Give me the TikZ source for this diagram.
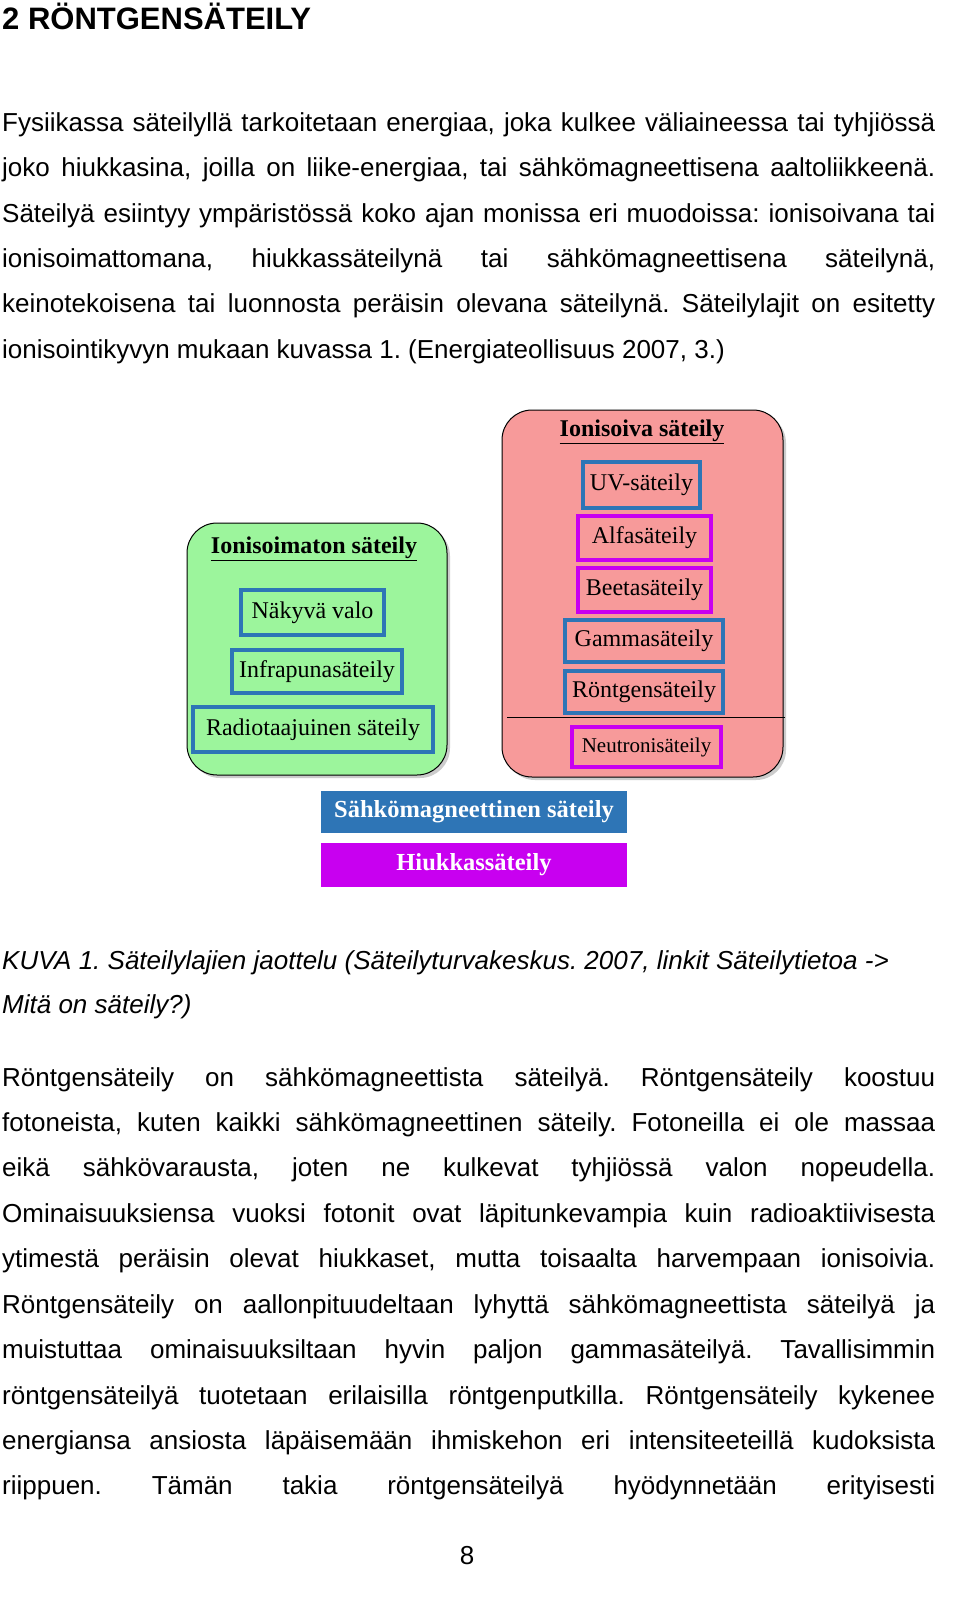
\documentclass[tikz,border=0pt]{standalone}
\usepackage{fontspec}
\setmainfont{Liberation Sans}
\newfontfamily\dfont{Liberation Serif}
\usetikzlibrary{shadows}
\frenchspacing
\definecolor{grn}{HTML}{9CF59C}
\definecolor{rd}{HTML}{F79A9A}
\definecolor{blu}{HTML}{2E75B6}
\definecolor{mag}{HTML}{C800F0}
\tikzset{
 txt/.style={anchor=base west,inner sep=0pt,font=\fontsize{26}{30}\selectfont},
 grp/.style={draw=black,line width=1pt,rounded corners=30pt,drop shadow={shadow xshift=3pt,shadow yshift=-3pt,opacity=0.4}},
 ib/.style={draw=blu,line width=3.5pt,inner sep=0pt,font=\dfont\fontsize{24}{26}\selectfont},
 mb/.style={draw=mag,line width=3.5pt,inner sep=0pt,font=\dfont\fontsize{24}{26}\selectfont},
 gt/.style={font=\dfont\bfseries\fontsize{24}{26}\selectfont,inner sep=0pt},
 lb/.style={inner sep=0pt,text=white,font=\dfont\bfseries\fontsize{24.5}{26}\selectfont},
}
\newcommand{\jl}[3]{\node[txt] (#1) at (2,#2) {\parbox[b]{933pt}{\frenchspacing\parfillskip=0pt\relax #3}};}
\newcommand{\nl}[3]{\node[txt] (#1) at (2,#2) {\frenchspacing #3};}
\begin{document}
\begin{tikzpicture}[x=1pt,y=-1pt]
\fill[white] (0,0) rectangle (960,1609);
\node[anchor=base west,inner sep=0pt,font=\bfseries\fontsize{31}{33}\selectfont] (title) at (2,29) {2 RÖNTGENSÄTEILY};
\jl{p1}{131}{Fysiikassa säteilyllä tarkoitetaan energiaa, joka kulkee väliaineessa tai tyhjiössä}
\jl{p2}{176}{joko hiukkasina, joilla on liike-energiaa, tai sähkömagneettisena aaltoliikkeenä.}
\jl{p3}{222}{Säteilyä esiintyy ympäristössä koko ajan monissa eri muodoissa: ionisoivana tai}
\jl{p4}{267}{ionisoimattomana, hiukkassäteilynä tai sähkömagneettisena säteilynä,}
\jl{p5}{312}{keinotekoisena tai luonnosta peräisin olevana säteilynä. Säteilylajit on esitetty}
\nl{p6}{358}{ionisointikyvyn mukaan kuvassa 1. (Energiateollisuus 2007, 3.)}

% diagram
\draw[grp,fill=grn] (187,523) rectangle (447,775);
\draw[grp,fill=rd] (502,410) rectangle (783,777);
\node[gt] (gtitle) at (314,549) {\underline{Ionisoimaton säteily}};
\node[ib,minimum width=143pt,minimum height=45pt] (nak) at (312.5,612.5) {Näkyvä valo};
\node[ib,minimum width=170pt,minimum height=43pt] (inf) at (317,671.5) {Infrapunasäteily};
\node[ib,minimum width=240pt,minimum height=45pt] (rad) at (313,729.5) {Radiotaajuinen säteily};
\node[gt] (rtitle) at (642,432) {\underline{Ionisoiva säteily}};
\node[ib,minimum width=117pt,minimum height=46pt] (uv) at (641.5,485) {UV-säteily};
\node[mb,minimum width=133pt,minimum height=44pt] (alf) at (644.5,538) {Alfasäteily};
\node[mb,minimum width=133pt,minimum height=44pt] (bet) at (644.5,590) {Beetasäteily};
\node[ib,minimum width=158pt,minimum height=42pt] (gam) at (644,641) {Gammasäteily};
\node[ib,minimum width=158pt,minimum height=42pt] (ron) at (644,692) {Röntgensäteily};
\coordinate (la) at (507,717); \coordinate (lb) at (785,717);
\draw[line width=1pt] (la) -- (lb);
\node[mb,minimum width=149pt,minimum height=40pt,font=\dfont\fontsize{21}{23}\selectfont] (neu) at (646.5,747) {Neutronisäteily};
\node[lb,fill=blu,minimum width=306pt,minimum height=42pt] (sah) at (474,812) {Sähkömagneettinen säteily};
\node[lb,fill=mag,minimum width=306pt,minimum height=44pt] (hiu) at (474,865) {Hiukkassäteily};

\nl{c1}{969}{\itshape KUVA 1. Säteilylajien jaottelu (Säteilyturvakeskus. 2007, linkit Säteilytietoa ->}
\nl{c2}{1013}{\itshape Mitä on säteily?)}

\jl{q1}{1086}{Röntgensäteily on sähkömagneettista säteilyä. Röntgensäteily koostuu}
\jl{q2}{1131}{fotoneista, kuten kaikki sähkömagneettinen säteily. Fotoneilla ei ole massaa}
\jl{q3}{1176}{eikä sähkövarausta, joten ne kulkevat tyhjiössä valon nopeudella.}
\jl{q4}{1222}{Ominaisuuksiensa vuoksi fotonit ovat läpitunkevampia kuin radioaktiivisesta}
\jl{q5}{1267}{ytimestä peräisin olevat hiukkaset, mutta toisaalta harvempaan ionisoivia.}
\jl{q6}{1313}{Röntgensäteily on aallonpituudeltaan lyhyttä sähkömagneettista säteilyä ja}
\jl{q7}{1358}{muistuttaa ominaisuuksiltaan hyvin paljon gammasäteilyä. Tavallisimmin}
\jl{q8}{1404}{röntgensäteilyä tuotetaan erilaisilla röntgenputkilla. Röntgensäteily kykenee}
\jl{q9}{1449}{energiansa ansiosta läpäisemään ihmiskehon eri intensiteeteillä kudoksista}
\jl{q10}{1494}{riippuen. Tämän takia röntgensäteilyä hyödynnetään erityisesti}
\node[anchor=base,inner sep=0pt,font=\fontsize{26}{30}\selectfont] (pg) at (467,1564) {8};
\pgfresetboundingbox
\useasboundingbox (0,0) rectangle (960,1609);
\end{tikzpicture}
\end{document}
